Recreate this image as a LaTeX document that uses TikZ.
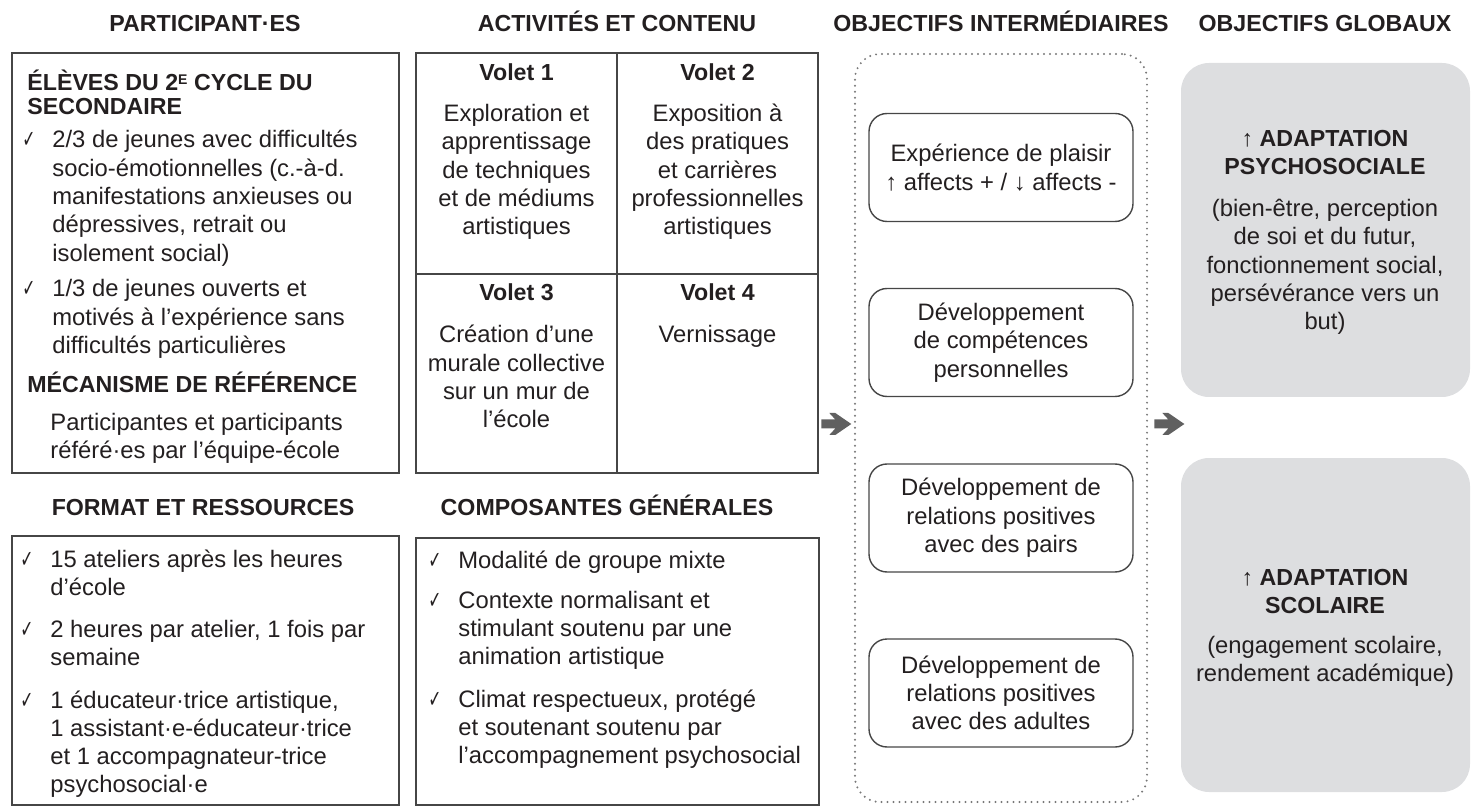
\documentclass[tikz,border=0pt]{standalone}
\usepackage{fontspec}
\setmainfont{Liberation Sans}
\newfontfamily\symfont{DejaVu Sans}
\usepackage{tikz}
\usetikzlibrary{positioning, fit, calc}

\definecolor{txtgray}{RGB}{35,31,32}
\definecolor{framegray}{RGB}{70,70,70}
\definecolor{goalfill}{RGB}{221,222,224}
\definecolor{arrowgray}{RGB}{96,96,96}
\definecolor{dotgray}{RGB}{120,120,120}

\newcommand{\bodyfont}{\fontsize{11.9}{14.15}\selectfont}
\newcommand{\headfont}{\bfseries\fontsize{11.6}{14.15}\selectfont}
\newcommand{\chk}{\makebox[0pt][r]{\scalebox{0.65}[1]{\symfont\fontsize{12}{12}\selectfont ✓}\hspace{8.5pt}}}
\newcommand{\uparr}{{\mdseries ↑}}
\newcommand{\supE}{\raisebox{3.2pt}{\fontsize{7}{7}\selectfont E}}

\begin{document}
\begin{tikzpicture}[
      x=0.5pt, y=-0.5pt,  % one unit = one pixel of the layout
      every node/.style={text=txtgray},
      colhead/.style={font=\headfont, anchor=base, inner sep=0},
      subhead/.style={font=\headfont, anchor=base west, align=left, inner sep=0},
      listtext/.style={font=\bodyfont, anchor=base west, align=left, inner sep=0},
      celltext/.style={font=\bodyfont, anchor=base, align=center, inner sep=0},
      frame/.style={draw=framegray, line width=0.7pt, inner sep=0},
      dotframe/.style={draw=dotgray, line width=1.1pt, line cap=round, dash pattern=on 0pt off 3pt, rounded corners=12.5pt, inner sep=0},
      objective/.style={draw=framegray, line width=0.7pt, rounded corners=9pt, align=center, font=\bodyfont, minimum width=132pt, minimum height=54pt, inner sep=0},
      goal/.style={fill=goalfill, rounded corners=14pt, inner sep=0},
      fatarrow/.pic={
        \fill[arrowgray] (-15,-4.5) -- (-1,-4.5) -- (-7,-11) -- (-1,-11) -- (15,0)
          -- (-1,11) -- (-7,11) -- (-1,4.5) -- (-15,4.5) -- cycle;
      }
    ]
    \useasboundingbox (0,0) rectangle (1472,807);

    % Column headers
    \node[colhead] (hpart) at (205,32) {PARTICIPANT·ES};
    \node[colhead] (hact) at (617,32) {ACTIVITÉS ET CONTENU};
    \node[colhead] (hinter) at (1001,32) {OBJECTIFS INTERMÉDIAIRES};
    \node[colhead] (hglob) at (1325,32) {OBJECTIFS GLOBAUX};
    \node[colhead] (hformat) at (203,515) {FORMAT ET RESSOURCES};
    \node[colhead] (hcomp) at (607,515) {COMPOSANTES GÉNÉRALES};

    % Participants (multi-line nodes sit on their last baseline)
    \node[frame, fit={(12,53) (399,473)}] (partbox) {};
    \node[subhead] (eleves) at (27,115) {ÉLÈVES DU 2\supE\ CYCLE DU\\[-2pt]SECONDAIRE};
    \node[listtext] (jeunesA) at (52,261.2) {\chk 2/3 de jeunes avec difficultés\\socio-émotionnelles (c.-à-d.\\manifestations anxieuses ou\\dépressives, retrait ou\\isolement social)};
    \node[listtext] (jeunesB) at (52,353.6) {\chk 1/3 de jeunes ouverts et\\motivés à l’expérience sans\\difficultés particulières};
    \node[subhead] (meca) at (27,393) {MÉCANISME DE RÉFÉRENCE};
    \node[listtext] (refere) at (50,458.3) {Participantes et participants\\référé·es par l’équipe-école};

    % Format et ressources
    \node[frame, fit={(12,536) (399,805)}] (formatbox) {};
    \node[listtext] (ateliers) at (50,595.3) {\chk 15 ateliers après les heures\\d’école};
    \node[listtext] (heures) at (50,665.3) {\chk 2 heures par atelier, 1 fois par\\semaine};
    \node[listtext] (equipe) at (50,792.9) {\chk 1 éducateur·trice artistique,\\1 assistant·e-éducateur·trice\\et 1 accompagnateur-trice\\psychosocial·e};

    % Activites: grille des volets
    \node[frame, fit={(416,53) (818,473)}] (actgrid) {};
    \draw[framegray, line width=0.7pt] (actgrid.north) -- (actgrid.south);
    \draw[framegray, line width=0.7pt] (actgrid.west |- 0,274) -- (actgrid.east |- 0,274);
    \node[colhead] (voletA) at (516.5,80.7) {Volet 1};
    \node[celltext] (voletAtxt) at (516.5,234.9) {Exploration et\\apprentissage\\de techniques\\et de médiums\\artistiques};
    \node[colhead] (voletB) at (717.5,80.7) {Volet 2};
    \node[celltext] (voletBtxt) at (717.5,234.9) {Exposition à\\des pratiques\\et carrières\\professionnelles\\artistiques};
    \node[colhead] (voletC) at (516.5,300.7) {Volet 3};
    \node[celltext] (voletCtxt) at (516.5,427.9) {Création d’une\\murale collective\\sur un mur de\\l’école};
    \node[colhead] (voletD) at (717.5,300.7) {Volet 4};
    \node[celltext] (voletDtxt) at (717.5,343) {Vernissage};

    % Composantes generales
    \node[frame, fit={(416,538) (819,805)}] (compbox) {};
    \node[listtext] (mixte) at (458,568) {\chk Modalité de groupe mixte};
    \node[listtext] (contexte) at (458,664.6) {\chk Contexte normalisant et\\stimulant soutenu par une\\animation artistique};
    \node[listtext] (climat) at (458,763.6) {\chk Climat respectueux, protégé\\et soutenant soutenu par\\l’accompagnement psychosocial};

    % Objectifs intermediaires
    \node[dotframe, fit={(855,54) (1147,802)}] (interframe) {};
    \node[objective] (plaisir) at (1001,167.5) {Expérience de plaisir\\↑ affects + / ↓ affects -};
    \node[objective] (compet) at (1001,342.5) {Développement\\de compétences\\personnelles};
    \node[objective] (pairs) at (1001,518) {Développement de\\relations positives\\avec des pairs};
    \node[objective] (adultes) at (1001,693) {Développement de\\relations positives\\avec des adultes};

    % Objectifs globaux
    \node[goal, fit={(1181,63) (1470,397)}] (psycho) {};
    \node[colhead, align=center] (psychotitle) at (1325,175) {\uparr\ ADAPTATION\\PSYCHOSOCIALE};
    \node[celltext] (psychotxt) at (1325,329.9) {(bien-être, perception\\de soi et du futur,\\fonctionnement social,\\persévérance vers un\\but)};
    \node[goal, fit={(1181,458) (1470,792)}] (scol) {};
    \node[colhead, align=center] (scoltitle) at (1325,613.3) {\uparr\ ADAPTATION\\SCOLAIRE};
    \node[celltext] (scoltxt) at (1325,681.6) {(engagement scolaire,\\rendement académique)};

    % Fleches entre colonnes
    \pic at ($(actgrid.east |- interframe.west)!0.5!(interframe.west) + (0,-4)$) {fatarrow};
    \pic at ($(interframe.east)!0.5!(interframe.east -| psycho.west) + (5,-4)$) {fatarrow};
\end{tikzpicture}
\end{document}
